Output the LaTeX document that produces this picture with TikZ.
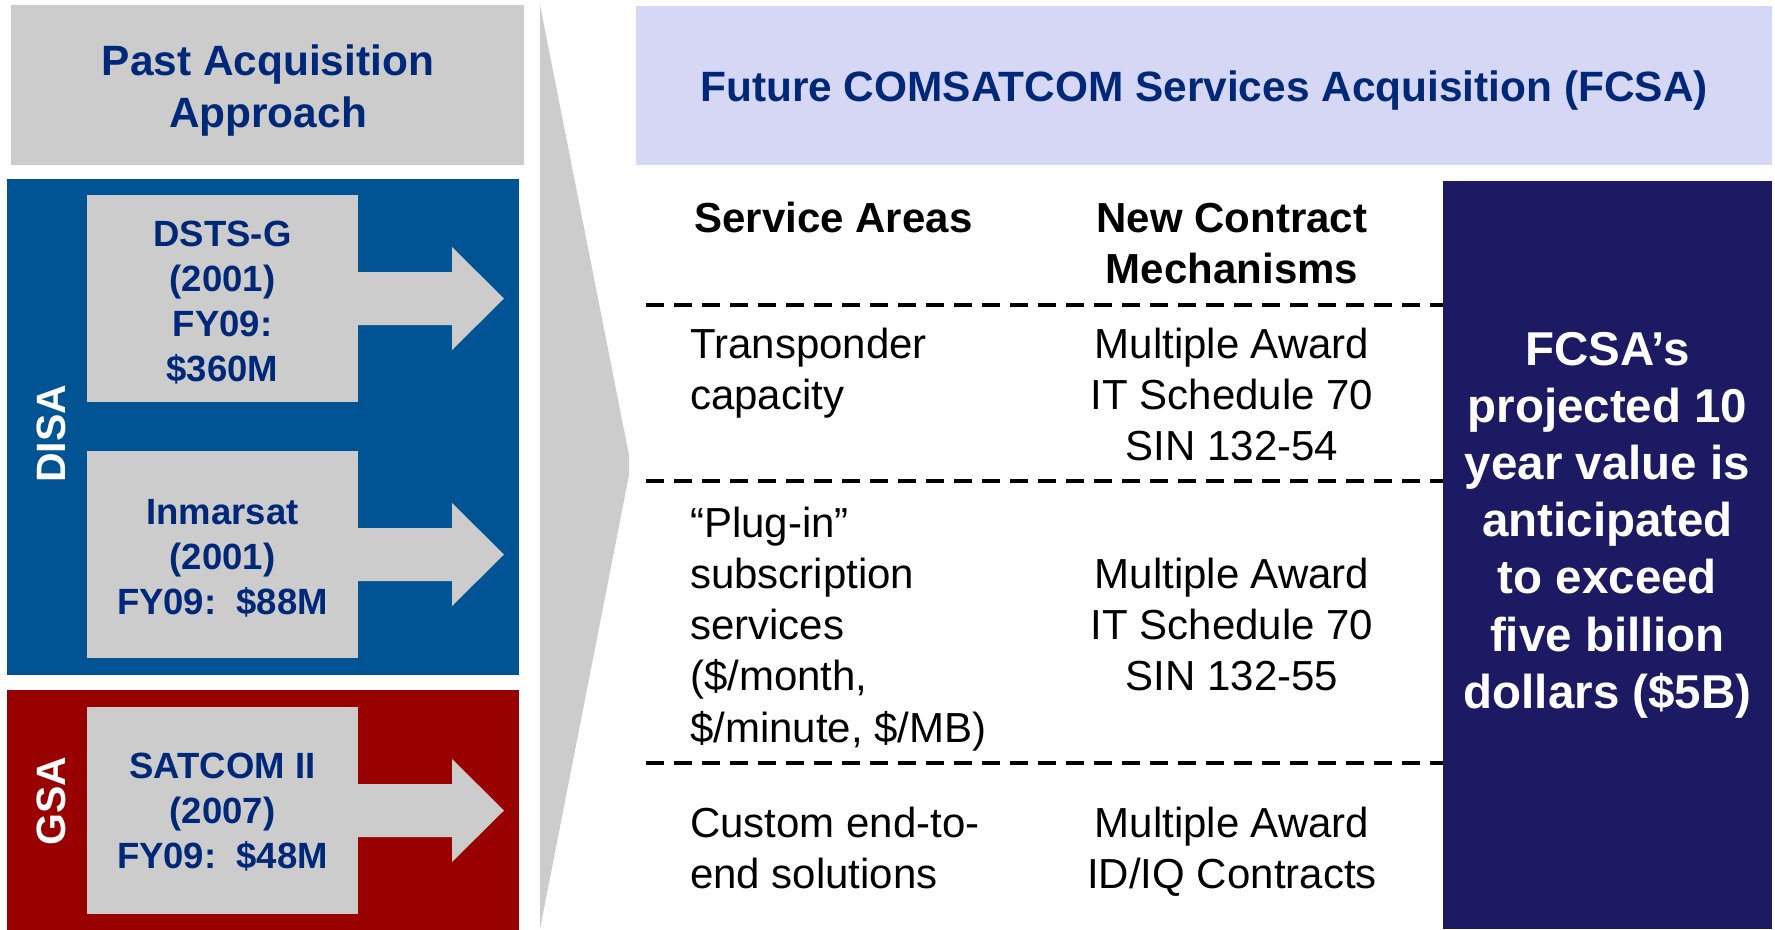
\documentclass[tikz,border=0pt]{standalone}
\usepackage{fontspec}
\setmainfont{Liberation Sans}
\definecolor{grayfill}{RGB}{204,204,204}
\definecolor{disablue}{RGB}{0,84,147}
\definecolor{gsared}{RGB}{153,0,0}
\definecolor{lavender}{RGB}{214,214,245}
\definecolor{navy}{RGB}{28,26,99}
\definecolor{titleblue}{RGB}{0,40,120}
\newcommand\mlines[2]{\begin{tabular}[t]{@{}#1@{}}#2\end{tabular}}
\begin{document}
\begin{tikzpicture}[x=1pt,y=-1pt,
  panel/.style={inner sep=0pt, outer sep=0pt, draw=none},
  boxtext/.style={inner sep=0pt, anchor=base, text=titleblue, font=\fontsize{36.5}{45}\selectfont\bfseries},
  headtext/.style={inner sep=0pt, anchor=base, text=titleblue, font=\fontsize{42.4}{52}\selectfont\bfseries},
  colhead/.style={inner sep=0pt, anchor=base, text=black, font=\fontsize{42}{51}\selectfont\bfseries},
  bodytext/.style={inner sep=0pt, text=black, font=\fontsize{42}{51.3}\selectfont},
  sidelabel/.style={inner sep=0pt, rotate=90, text=white, font=\fontsize{41}{49}\selectfont\bfseries},
  rule/.style={line width=3.5pt, dash pattern=on 18pt off 10pt},
  grayarrow/.pic={\fill[grayfill] (-2,-26.5) -- (94,-26.5) -- (94,-51.5) -- (146,0) -- (94,51.5) -- (94,26.5) -- (-2,26.5) -- cycle;}
]
\useasboundingbox (0,0) rectangle (1775,929);

% left panels
\node[panel, fill=grayfill, minimum width=513pt, minimum height=160pt] (past) at (267.5,85) {};
\node[panel, fill=disablue, minimum width=512pt, minimum height=496pt] (disa) at (263,427) {};
\node[panel, fill=gsared, minimum width=512pt, minimum height=240pt] (gsa) at (263,810) {};

\node[headtext] (pasttxt) at (268,75) {\mlines{c}{Past Acquisition\\Approach}};

\node[sidelabel] (disalbl) at (51,434) {DISA};
\node[sidelabel] (gsalbl) at (51,801) {GSA};

% inner boxes
\node[panel, fill=grayfill, minimum width=271pt, minimum height=207pt] (b1) at (222.5,298.5) {};
\node[panel, fill=grayfill, minimum width=271pt, minimum height=207pt] (b2) at (222.5,554.5) {};
\node[panel, fill=grayfill, minimum width=271pt, minimum height=207pt] (b3) at (222.5,810.5) {};
\pic at (b1.east) {grayarrow};
\pic at (b2.east) {grayarrow};
\pic at (b3.east) {grayarrow};

\node[boxtext] (t1) at (222.5,246) {\mlines{c}{DSTS-G\\(2001)\\FY09:\\\$360M}};
\node[boxtext] (t2) at (222.5,524) {\mlines{c}{Inmarsat\\(2001)\\FY09:\ \ \$88M}};
\node[boxtext] (t3) at (222.5,778) {\mlines{c}{SATCOM II\\(2007)\\FY09:\ \ \$48M}};

% chevron
\fill[grayfill] (540,5) -- (629,455) -- (629,475) -- (540,929) -- cycle;

% header
\node[panel, fill=lavender, minimum width=1136pt, minimum height=159pt] (fcsa) at (1204,85.5) {};
\node[headtext] (fcsatxt) at (1204,101) {Future COMSATCOM Services Acquisition (FCSA)};

% table
\node[colhead] (svc) at (833.5,232) {Service Areas};
\node[colhead] (mech) at (1232,232) {\mlines{c}{New Contract\\Mechanisms}};

\draw[rule] (646,305) -- (1450,305);
\draw[rule] (646,481) -- (1450,481);
\draw[rule] (646,763) -- (1450,763);

\node[bodytext, anchor=base west] (r1a) at (690,358) {\mlines{l}{Transponder\\capacity}};
\node[bodytext, anchor=base] (r1b) at (1232,358) {\mlines{c}{Multiple Award\\IT Schedule 70\\SIN 132-54}};
\node[bodytext, anchor=base west] (r2a) at (690,537) {\mlines{l}{“Plug-in”\\subscription\\services\\(\$/month,\\\$/minute, \$/MB)}};
\node[bodytext, anchor=base] (r2b) at (1232,588) {\mlines{c}{Multiple Award\\IT Schedule 70\\SIN 132-55}};
\node[bodytext, anchor=base west] (r3a) at (690,837) {\mlines{l}{Custom end-to-\\end solutions}};
\node[bodytext, anchor=base] (r3b) at (1232,837) {\mlines{c}{Multiple Award\\ID/IQ Contracts}};

% right box
\node[panel, fill=navy, minimum width=329pt, minimum height=748pt] (value) at (1607.5,555) {};
\node[inner sep=0pt, anchor=base, text=white, font=\fontsize{47.5}{57.2}\selectfont\bfseries] (valtxt) at (1607.5,365)
  {\mlines{c}{FCSA’s\\projected 10\\year value is\\anticipated\\to exceed\\five billion\\dollars (\$5B)}};
\end{tikzpicture}
\end{document}
